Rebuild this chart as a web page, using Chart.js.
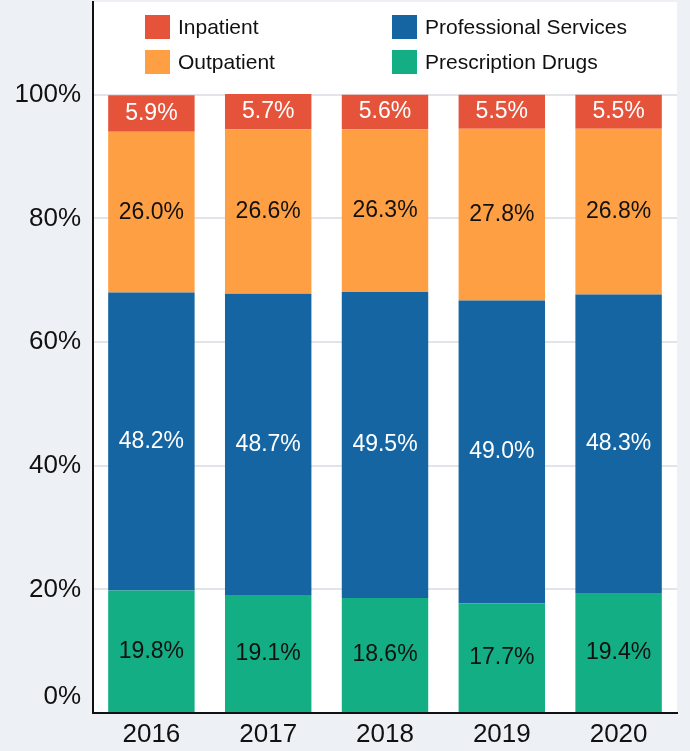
<!DOCTYPE html>
<html>
<head>
<meta charset="utf-8">
<script src="https://cdn.jsdelivr.net/npm/chart.js@4.4.1/dist/chart.umd.min.js"></script>
<style>
  html, body { margin: 0; padding: 0; background: #edf1f5; }
  canvas { display: block; }
</style>
</head>
<body>
<canvas id="myChart" width="690" height="751"></canvas>
<script>
// data (share of spending, %)
const years = ["2016", "2017", "2018", "2019", "2020"];
const prescriptionDrugs = [19.8, 19.1, 18.6, 17.7, 19.4];
const professionalServices = [48.2, 48.7, 49.5, 49.0, 48.3];
const outpatient = [26.0, 26.6, 26.3, 27.8, 26.8];
const inpatient = [5.9, 5.7, 5.6, 5.5, 5.5];
const yMax = 115;
const yStep = 20;

const FONT = "'Liberation Sans', Arial, sans-serif";

// white plot area on the grey page
const plotBackground = {
  id: "plotBackground",
  beforeDraw(chart) {
    const { ctx, chartArea } = chart;
    ctx.save();
    ctx.fillStyle = "#ffffff";
    ctx.fillRect(chartArea.left, chartArea.top, chartArea.right - chartArea.left, chartArea.bottom - chartArea.top);
    ctx.restore();
  },
};

// value in the middle of each segment
const segmentLabels = {
  id: "segmentLabels",
  afterDatasetsDraw(chart) {
    const ctx = chart.ctx;
    ctx.save();
    ctx.font = "23px " + FONT;
    ctx.textAlign = "center";
    ctx.textBaseline = "middle";
    chart.data.datasets.forEach((ds, i) => {
      chart.getDatasetMeta(i).data.forEach((bar, j) => {
        ctx.fillStyle = ds.labelColor;
        ctx.fillText(ds.data[j].toFixed(1) + "%", bar.x, (bar.y + bar.base) / 2);
      });
    });
    ctx.restore();
  },
};

// the 0% tick label sits a bit above the axis line in the original
const zeroLabel = {
  id: "zeroLabel",
  afterDraw(chart) {
    const ctx = chart.ctx;
    const y = chart.scales.y;
    ctx.save();
    ctx.font = "26px " + FONT;
    ctx.fillStyle = "#111111";
    ctx.textAlign = "right";
    ctx.textBaseline = "middle";
    ctx.fillText("0%", chart.chartArea.left - 12, y.getPixelForValue(0) - 16);
    ctx.restore();
  },
};

// 2 x 2 legend inside the top of the plot
const gridLegend = {
  id: "gridLegend",
  afterDraw(chart) {
    const ctx = chart.ctx;
    const area = chart.chartArea;
    const order = [3, 2, 1, 0]; // Inpatient, Outpatient, Professional, Prescription
    ctx.save();
    ctx.font = "21px " + FONT;
    ctx.textBaseline = "middle";
    ctx.textAlign = "left";
    order.forEach((dsIndex, k) => {
      const ds = chart.data.datasets[dsIndex];
      const col = Math.floor(k / 2);
      const row = k % 2;
      const x = area.left + 52 + col * 247;
      const y = 27 + row * 35;
      ctx.fillStyle = ds.backgroundColor;
      ctx.fillRect(x, y - 12, 25, 24);
      ctx.fillStyle = "#111111";
      ctx.fillText(ds.label, x + 33, y + 1);
    });
    ctx.restore();
  },
};

let canvas = document.getElementById("myChart").getContext("2d");
let myChart = new Chart(canvas, {
  type: "bar",
  data: {
    labels: years,
    datasets: [
      { label: "Prescription Drugs", data: prescriptionDrugs, backgroundColor: "#13ae84", labelColor: "#111111" },
      { label: "Professional Services", data: professionalServices, backgroundColor: "#1565a3", labelColor: "#ffffff" },
      { label: "Outpatient", data: outpatient, backgroundColor: "#fe9f43", labelColor: "#111111" },
      { label: "Inpatient", data: inpatient, backgroundColor: "#e5533b", labelColor: "#ffffff" },
    ],
  },
  options: {
    responsive: false,
    animation: false,
    layout: { padding: { top: 2, right: 13, left: 0, bottom: 0 } },
    datasets: {
      bar: { barPercentage: 0.74, categoryPercentage: 1, borderWidth: 0 },
    },
    plugins: {
      legend: { display: false },
      tooltip: { enabled: false },
    },
    scales: {
      x: {
        stacked: true,
        grid: { display: false, drawTicks: false },
        border: { display: true, color: "#111111", width: 2 },
        ticks: { color: "#111111", font: { family: FONT, size: 26 }, padding: 6 },
        afterFit(scale) {
          scale.height = 38;
        },
      },
      y: {
        stacked: true,
        min: 0,
        max: yMax,
        grid: { color: "#e1e5ea", lineWidth: 2, drawTicks: false },
        border: { display: true, color: "#111111", width: 2 },
        ticks: {
          stepSize: yStep,
          includeBounds: false,
          color: "#111111",
          padding: 12,
          font: { family: FONT, size: 26 },
          callback: (v) => (v === 0 ? "" : v + "%"),
        },
        afterFit(scale) {
          scale.width = 93;
          scale.paddingTop = 0;
          scale.paddingBottom = 0;
        },
      },
    },
  },
  plugins: [plotBackground, segmentLabels, zeroLabel, gridLegend],
});
</script>
</body>
</html>
